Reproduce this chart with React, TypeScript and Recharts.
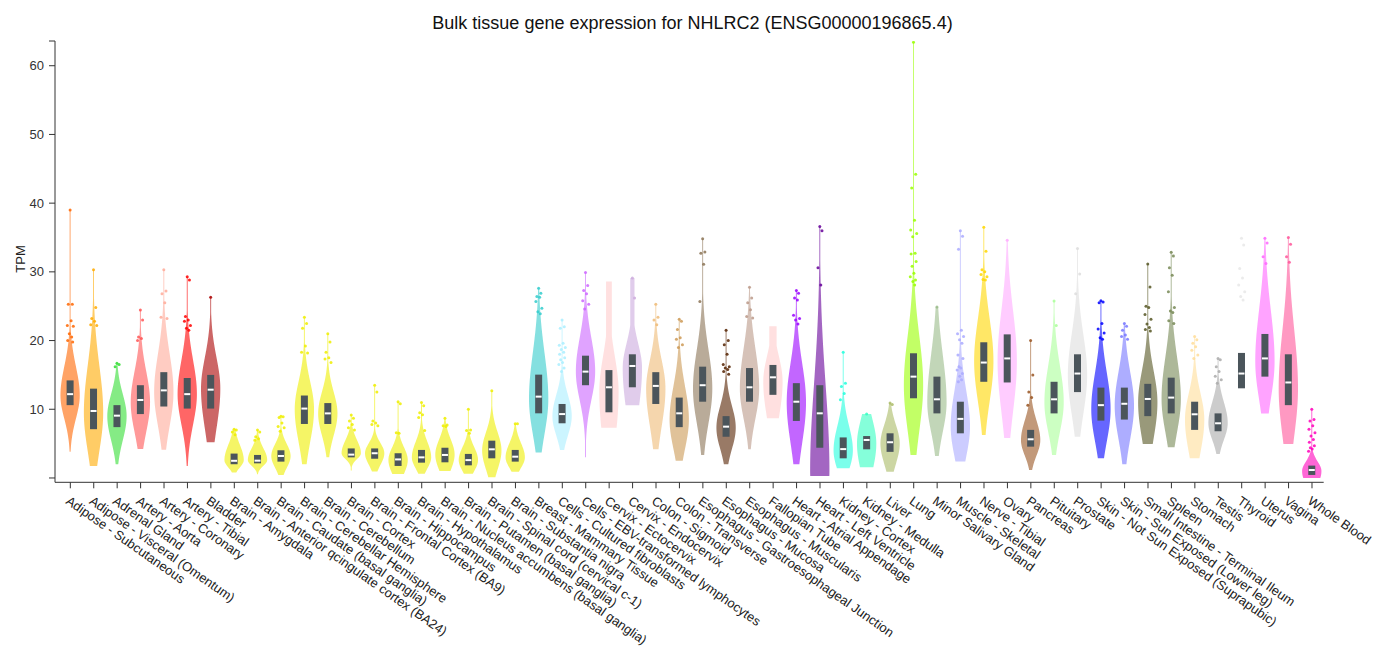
import React from "react"
import { ComposedChart, Bar, XAxis, YAxis } from "recharts"

// GTEx-style violin plot (TPM)
const tissues = [
    "Adipose - Subcutaneous",
    "Adipose - Visceral (Omentum)",
    "Adrenal Gland",
    "Artery - Aorta",
    "Artery - Coronary",
    "Artery - Tibial",
    "Bladder",
    "Brain - Amygdala",
    "Brain - Anterior qcingulate cortex (BA24)",
    "Brain - Caudate (basal ganglia)",
    "Brain - Cerebellar Hemisphere",
    "Brain - Cerebellum",
    "Brain - Cortex",
    "Brain - Frontal Cortex (BA9)",
    "Brain - Hippocampus",
    "Brain - Hypothalamus",
    "Brain - Nucleus accumbens (basal ganglia)",
    "Brain - Putamen (basal ganglia)",
    "Brain - Spinal cord (cervical c-1)",
    "Brain - Substantia nigra",
    "Breast - Mammary Tissue",
    "Cells - Cultured fibroblasts",
    "Cells - EBV-transformed lymphocytes",
    "Cervix - Ectocervix",
    "Cervix - Endocervix",
    "Colon - Sigmoid",
    "Colon - Transverse",
    "Esophagus - Gastroesophageal Junction",
    "Esophagus - Mucosa",
    "Esophagus - Muscularis",
    "Fallopian Tube",
    "Heart - Atrial Appendage",
    "Heart - Left Ventricle",
    "Kidney - Cortex",
    "Kidney - Medulla",
    "Liver",
    "Lung",
    "Minor Salivary Gland",
    "Muscle - Skeletal",
    "Nerve - Tibial",
    "Ovary",
    "Pancreas",
    "Pituitary",
    "Prostate",
    "Skin - Not Sun Exposed (Suprapubic)",
    "Skin - Sun Exposed (Lower leg)",
    "Small Intestine - Terminal Ileum",
    "Spleen",
    "Stomach",
    "Testis",
    "Thyroid",
    "Uterus",
    "Vagina",
    "Whole Blood"
]

const colors = [
    "#FF6600", "#FFAA00", "#33DD33", "#FF5555", "#FFAA99", "#FF0000", "#AA0000",
    "#EEEE00", "#EEEE00", "#EEEE00", "#EEEE00", "#EEEE00", "#EEEE00", "#EEEE00",
    "#EEEE00", "#EEEE00", "#EEEE00", "#EEEE00", "#EEEE00", "#EEEE00",
    "#33CCCC", "#AAEEFF", "#CC66FF", "#FFCCCC", "#CCAADD", "#EEBB77", "#CC9955",
    "#8B7355", "#552200", "#BB9988", "#FFCCCC", "#9900FF", "#660099", "#22FFDD",
    "#33FFC2", "#AABB66", "#99FF00", "#99BB88", "#AAAAFF", "#FFD700", "#FFAAFF",
    "#995522", "#AAFF99", "#DDDDDD", "#0000FF", "#7777FF", "#555522", "#778855",
    "#FFDD99", "#AAAAAA", "#DDDDDD", "#FF66FF", "#FF5599", "#FF00BB"
]

const minVals = [
    3.8, 1.75, 2.0, 4.2, 4.1, 1.75, 5.2, 0.8, 0.53, 0.44, 2.0, 3.0, 1.07, 0.93,
    0.58, 0.6, 1.0, 0.6, 0.1, 0.9, 3.7, 4.08, 3.0, 7.3, 10.6, 4.17, 2.5, 3.35,
    2.0, 4.17, 8.7, 2.0, 0.3, 1.4, 1.55, 0.9, 3.35, 3.2, 2.4, 6.26, 5.8, 1.16,
    3.35, 6.0, 2.86, 2.0, 4.95, 4.47, 2.86, 3.5, 13.05, 9.4, 4.95, 0.0
]
const q1Vals = [
    10.6, 7.1, 7.4, 9.3, 10.4, 10.1, 10.1, 2.0, 2.13, 2.38, 7.86, 7.86, 3.0, 2.8,
    1.75, 2.23, 2.28, 1.84, 2.86, 2.38, 9.41, 7.96, 13.5, 9.56, 13.2, 10.77, 7.4,
    11.1, 6.0, 11.1, 12.1, 8.3, 4.4, 2.86, 4.17, 3.8, 11.6, 9.4, 6.5, 14.0, 13.9,
    4.56, 9.4, 12.5, 8.35, 8.5, 9.0, 9.4, 7.0, 6.8, 13.05, 14.75, 10.6, 0.44
]
const medianVals = [
    12.2, 9.75, 9.07, 11.35, 12.75, 12.2, 12.85, 2.5, 2.52, 3.2, 10.1, 9.4, 3.4,
    3.6, 2.7, 3.0, 3.35, 2.6, 4.17, 3.1, 11.84, 9.3, 15.48, 13.2, 16.3, 13.4,
    9.41, 13.5, 7.47, 13.2, 14.65, 11.1, 9.41, 4.2, 5.53, 5.2, 14.75, 11.45, 8.6,
    16.8, 17.4, 5.63, 11.45, 15.2, 10.6, 10.8, 11.5, 11.7, 9.27, 7.96, 15.2,
    17.4, 13.9, 1.16
]
const q3Vals = [
    14.2, 13.0, 10.6, 13.5, 15.4, 14.55, 15.0, 3.55, 3.35, 4.03, 12.0, 10.9, 4.3,
    4.3, 3.6, 4.08, 4.4, 3.5, 5.43, 4.08, 15.04, 10.77, 17.8, 15.7, 18.0, 15.4,
    11.7, 16.2, 9.0, 16.0, 16.45, 13.8, 13.5, 5.9, 6.1, 6.5, 18.15, 14.75, 11.1,
    19.75, 20.9, 7.0, 14.0, 18.0, 13.15, 13.15, 13.7, 14.6, 11.1, 9.4, 18.2,
    20.96, 18.0, 1.8
]
const maxVals = [
    39.0, 30.3, 16.7, 24.45, 30.3, 29.3, 26.3, 7.1, 7.0, 9.0, 23.4, 21.0, 9.17,
    13.5, 11.1, 10.97, 8.7, 10.0, 12.7, 7.9, 27.6, 23.0, 29.9, 28.6, 29.1, 25.3,
    23.1, 34.8, 21.5, 27.75, 22.1, 27.3, 36.6, 18.3, 9.3, 10.9, 63.4, 24.9, 36.0,
    36.5, 34.6, 20.0, 25.76, 33.4, 25.8, 22.5, 31.15, 32.85, 20.6, 17.4, 34.9,
    34.9, 35.0, 10.0
]
// value where each violin is widest
const peakVals = [
    12.0, 9.5, 9.0, 11.0, 12.5, 12.2, 13.0, 2.6, 2.6, 3.2, 10.0, 9.4, 3.6, 3.6,
    2.6, 3.0, 3.4, 2.6, 4.0, 3.0, 11.5, 9.0, 15.5, 12.5, 16.0, 13.0, 8.5, 13.0,
    7.3, 13.0, 14.0, 11.0, 1.0, 4.0, 5.0, 5.0, 13.5, 11.0, 7.5, 17.0, 17.0, 5.5,
    11.0, 15.0, 10.0, 10.5, 11.0, 11.5, 8.5, 8.0, 15.2, 17.0, 13.0, 1.0
]

const outliers: number[][] = [
    [39.0, 25.3, 25.3, 22.9, 22.2, 22.1, 21.0, 20.5, 20.0, 19.8],
    [30.3, 24.8, 23.2, 22.8, 22.3, 22.2],
    [16.7, 16.5, 16.2],
    [24.45, 23.0, 20.5, 20.3, 20.0],
    [30.3, 27.2, 26.8, 25.5, 23.4, 23.2],
    [29.3, 28.8, 23.5, 23.0, 22.8, 22.2, 21.8, 21.5],
    [26.3],
    [7.1, 7.0, 6.7, 6.3],
    [7.0, 6.7, 6.0, 5.7, 5.5],
    [9.0, 8.9, 8.8, 8.0, 7.5, 7.3, 6.8],
    [23.4, 22.5, 21.8, 19.2, 18.3, 18.2],
    [21.0, 19.8, 18.3, 17.5, 17.3, 16.8],
    [9.17, 8.7, 8.3, 7.8, 7.3, 7.0],
    [13.5, 12.5, 8.3, 8.0, 7.8, 7.6],
    [11.1, 10.8, 6.6, 6.5],
    [10.97, 10.5, 9.5, 9.2, 8.8, 6.9],
    [8.7, 7.7, 7.6, 7.5],
    [10.0, 7.0, 6.9, 6.5],
    [12.7],
    [7.9, 7.9],
    [27.6, 26.9, 26.4, 26.3, 25.7, 24.7, 24.2, 23.9],
    [23.0, 22.0, 21.8, 19.6, 19.3, 19.0, 18.7, 18.3, 18.0, 17.5, 17.2, 16.8, 16.5, 16.0, 15.5],
    [29.9, 28.0, 27.3, 26.8, 25.8, 25.3, 24.6],
    [],
    [29.1, 26.2],
    [25.3, 23.4, 23.0, 22.3],
    [23.1, 22.8, 21.6, 20.4, 20.2, 19.4, 19.0],
    [34.8, 32.9, 32.7, 31.1, 25.7],
    [21.5, 20.0, 19.4, 18.0, 16.5, 16.2, 16.0, 15.8, 15.5, 15.1],
    [27.75, 26.2, 25.5, 24.5, 23.5, 23.3],
    [],
    [27.3, 26.9, 26.2, 25.9, 23.7, 23.2, 23.0, 22.4],
    [36.6, 36.0, 30.6, 28.1],
    [18.3, 13.8, 13.3, 12.3, 11.4],
    [9.3],
    [10.9, 10.7],
    [63.4, 44.2, 42.2, 37.5, 36.1, 35.6, 35.1, 32.7, 32.6, 31.5, 30.8, 29.8, 29.3, 28.8, 28.6, 28.1],
    [24.9],
    [36.0, 35.2, 33.3, 21.5, 21.0, 20.6, 20.1, 19.6, 17.9, 17.4, 16.2, 16.0, 15.7, 15.2, 14.8, 14.3, 14.0],
    [36.5, 33.0, 30.3, 30.0, 29.6, 29.3, 28.9, 28.8],
    [34.6],
    [20.0, 15.0, 12.5, 11.7, 10.6],
    [25.76, 22.2],
    [33.4, 29.7, 26.8],
    [25.8, 25.6, 25.5, 22.5, 21.7, 21.1, 20.4, 20.2],
    [22.5, 22.1, 21.5, 20.8, 20.6, 20.2],
    [31.15, 27.8, 25.0, 24.8, 23.8, 23.1, 22.4, 21.9, 21.6, 21.4],
    [32.85, 32.3, 30.6, 29.5, 27.1, 24.8, 24.3, 24.1, 22.9, 22.5],
    [20.6, 20.1, 19.6, 19.1, 18.6, 17.9, 17.4],
    [17.4, 17.2, 16.2, 15.5, 14.8, 14.3, 13.8],
    [34.9, 33.9, 30.5, 29.1, 28.1, 27.1, 26.4, 25.9],
    [34.9, 34.2, 32.2, 31.2],
    [35.0, 34.0, 32.2, 31.4],
    [10.0, 8.5, 8.3, 7.6, 7.1, 6.6, 6.1, 5.6, 5.2, 4.7, 4.4, 4.2, 3.9]
]

// shape tweaks for violins whose outline is not well described by the quartiles
const spreadOverrides: Record<number, [number, number]> = {
    32: [5, 12.5],
    34: [4, 3.5],
    53: [2, 1.4]
}
const neckWidths: Record<number, number> = {
    23: 0.3,
    24: 0.22,
    30: 0.38
}
const hiddenViolins = [50]

const yTicks = [0, 10, 20, 30, 40, 50, 60, 63.6]

const FONT = "'Liberation Sans', Arial, Helvetica, sans-serif"
const BOX_COLOR = "#4b555b"
const jitter = [0, 0.55, -0.45, 0.25, -0.7, 0.8, -0.2, 0.4, -0.6, 0.65, -0.35, 0.1, -0.8, 0.5, -0.15, 0.3, -0.5]

const chartData = tissues.map((tissue, i) => ({
    tissue,
    idx: i,
    range: [minVals[i], maxVals[i]]
}))

function ViolinShape(props: any) {
    const { x, y, width, height } = props
    const i: number = props.payload?.idx ?? props.index
    const lo = minVals[i]
    const hi = maxVals[i]
    const toY = (v: number) => y + ((hi - v) / (hi - lo)) * height
    const cx = x + width / 2
    const maxHalf = width * 0.42
    const color = colors[i]

    const med = medianVals[i]
    const peak = peakVals[i]
    const override = spreadOverrides[i]
    const sLo = override ? override[0] : Math.max((med - q1Vals[i]) * 2.1, 0.4)
    const sHi = override ? override[1] : Math.max((q3Vals[i] - med) * 2.1, 0.4)
    const floor = neckWidths[i] ?? 0.05

    const half = (v: number) => {
        const s = v < peak ? sLo : sHi
        const d = (v - peak) / s
        return Math.max(Math.exp(-0.5 * d * d), floor) * maxHalf
    }

    const steps = 90
    const left: string[] = []
    const right: string[] = []
    for (let k = 0; k <= steps; k++) {
        const v = lo + ((hi - lo) * k) / steps
        const h = half(v)
        const py = toY(v)
        left.push(`${(cx - h).toFixed(2)},${py.toFixed(2)}`)
        right.unshift(`${(cx + h).toFixed(2)},${py.toFixed(2)}`)
    }
    const path = `M${left.join("L")}L${right.join("L")}Z`

    const yQ1 = toY(q1Vals[i])
    const yQ3 = toY(q3Vals[i])
    const yMed = toY(med)

    return (
        <g>
            {!hiddenViolins.includes(i) && (
                <path d={path} fill={color} fillOpacity={0.6} stroke="none" />
            )}
            {outliers[i].map((v, k) => (
                <circle
                    key={k}
                    cx={cx + jitter[k % jitter.length] * 4}
                    cy={toY(v)}
                    r={1.5}
                    fill={color}
                    fillOpacity={i === 50 ? 0.6 : 0.85}
                />
            ))}
            <rect x={cx - 3.5} y={yQ3} width={7} height={yQ1 - yQ3} fill={BOX_COLOR} />
            <rect x={cx - 3} y={yMed - 1} width={6} height={2} fill="#ffffff" />
        </g>
    )
}

function XTick({ x, y, payload }: any) {
    return (
        <g transform={`translate(${x},${y}) rotate(35)`}>
            <text x={4} y={15} textAnchor="start" fontSize={13} fill="#222" fontFamily={FONT}>
                {payload.value}
            </text>
        </g>
    )
}

export default function App() {
    return (
        <div style={{ position: "absolute", left: 0, top: 0, width: 1385, height: 661, background: "#fff" }}>
            <ComposedChart
                width={1385}
                height={661}
                data={chartData}
                margin={{ top: 41, right: 61.3, bottom: 0, left: 0 }}
                barCategoryGap={0}
            >
                <XAxis
                    dataKey="tissue"
                    type="category"
                    interval={0}
                    height={178.7}
                    padding={{ left: 3.6, right: 0 }}
                    tickSize={6}
                    tickMargin={0}
                    axisLine={{ stroke: "#333" }}
                    tickLine={{ stroke: "#333" }}
                    tick={<XTick />}
                />
                <YAxis
                    type="number"
                    width={55}
                    domain={[-0.63, 63.6]}
                    allowDataOverflow
                    ticks={yTicks}
                    tickFormatter={(v: number) => (v === 0 || v > 61 ? "" : String(v))}
                    tickSize={6}
                    tickMargin={5}
                    axisLine={{ stroke: "#333" }}
                    tickLine={{ stroke: "#333" }}
                    tick={{ fontSize: 13, fill: "#333", fontFamily: FONT }}
                />
                <Bar dataKey="range" shape={ViolinShape} isAnimationActive={false} />
            </ComposedChart>
            <svg
                width={1385}
                height={661}
                style={{ position: "absolute", left: 0, top: 0, pointerEvents: "none" }}
            >
                <text x={692.5} y={29} textAnchor="middle" fontSize={18} fill="#111" fontFamily={FONT}>
                    Bulk tissue gene expression for NHLRC2 (ENSG00000196865.4)
                </text>
                <text
                    x={0}
                    y={0}
                    transform="translate(24.5,259) rotate(-90)"
                    textAnchor="middle"
                    fontSize={13}
                    fill="#222"
                    fontFamily={FONT}
                >
                    TPM
                </text>
            </svg>
        </div>
    )
}
